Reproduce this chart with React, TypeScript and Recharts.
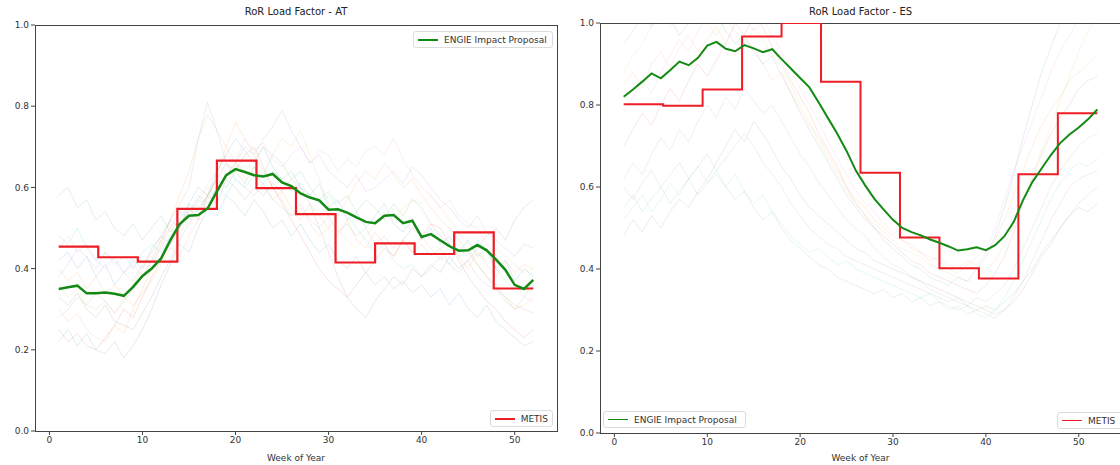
import { LineChart, Line, XAxis, YAxis } from "recharts";

const weeks = Array.from({ length: 52 }, (_, i) => i + 1);

// month boundaries (in weeks) used by the METIS step profile
const metisBreaks = [1, 5.25, 9.5, 13.75, 18, 22.25, 26.5, 30.75, 35, 39.25, 43.5, 47.75, 52];

const xTicks = [0, 10, 20, 30, 40, 50];
const yTicks = [0, 0.2, 0.4, 0.6, 0.8, 1.0];

// ---- AT ----
const atEngie = [
  0.350, 0.354, 0.358, 0.339, 0.339, 0.341, 0.338, 0.333, 0.355, 0.382,
  0.400, 0.425, 0.470, 0.510, 0.530, 0.532, 0.548, 0.590, 0.630, 0.645,
  0.638, 0.630, 0.627, 0.633, 0.612, 0.603, 0.585, 0.575, 0.568, 0.545,
  0.546, 0.538, 0.526, 0.515, 0.512, 0.530, 0.532, 0.512, 0.518, 0.478,
  0.485, 0.470, 0.455, 0.444, 0.445, 0.458, 0.445, 0.422, 0.397, 0.360,
  0.350, 0.372,
];
const atMetis = [0.454, 0.428, 0.417, 0.547, 0.666, 0.598, 0.534, 0.415, 0.462, 0.436, 0.489, 0.351];

const atYears = [
  [0.42, 0.44, 0.40, 0.43, 0.38, 0.41, 0.36, 0.39, 0.42, 0.40,
   0.45, 0.48, 0.52, 0.50, 0.56, 0.60, 0.58, 0.64, 0.68, 0.72,
   0.69, 0.66, 0.70, 0.65, 0.62, 0.64, 0.60, 0.58, 0.61, 0.55,
   0.57, 0.52, 0.54, 0.50, 0.53, 0.56, 0.51, 0.49, 0.52, 0.47,
   0.50, 0.46, 0.48, 0.44, 0.47, 0.43, 0.45, 0.40, 0.42, 0.37,
   0.40, 0.38],
  [0.30, 0.27, 0.29, 0.25, 0.23, 0.22, 0.26, 0.24, 0.30, 0.35,
   0.40, 0.46, 0.52, 0.58, 0.64, 0.72, 0.78, 0.74, 0.70, 0.66,
   0.62, 0.65, 0.60, 0.57, 0.59, 0.55, 0.52, 0.56, 0.53, 0.50,
   0.48, 0.52, 0.47, 0.45, 0.49, 0.46, 0.43, 0.47, 0.44, 0.48,
   0.45, 0.42, 0.46, 0.43, 0.40, 0.44, 0.41, 0.38, 0.42, 0.39,
   0.41, 0.40],
  [0.58, 0.60, 0.55, 0.57, 0.52, 0.54, 0.50, 0.48, 0.51, 0.47,
   0.50, 0.53, 0.49, 0.52, 0.56, 0.54, 0.58, 0.62, 0.60, 0.64,
   0.61, 0.65, 0.63, 0.68, 0.66, 0.62, 0.64, 0.60, 0.57, 0.59,
   0.56, 0.58, 0.54, 0.57, 0.55, 0.52, 0.56, 0.53, 0.57, 0.55,
   0.51, 0.48, 0.46, 0.43, 0.45, 0.41, 0.38, 0.35, 0.32, 0.30,
   0.33, 0.36],
  [0.25, 0.22, 0.24, 0.21, 0.20, 0.23, 0.26, 0.30, 0.28, 0.33,
   0.38, 0.42, 0.46, 0.50, 0.55, 0.52, 0.58, 0.62, 0.66, 0.64,
   0.68, 0.70, 0.65, 0.60, 0.56, 0.52, 0.48, 0.44, 0.40, 0.37,
   0.35, 0.33, 0.36, 0.39, 0.42, 0.45, 0.43, 0.47, 0.50, 0.48,
   0.51, 0.50, 0.46, 0.42, 0.38, 0.35, 0.32, 0.30, 0.27, 0.25,
   0.23, 0.25],
  [0.38, 0.41, 0.45, 0.43, 0.40, 0.44, 0.42, 0.39, 0.37, 0.41,
   0.44, 0.48, 0.46, 0.50, 0.54, 0.58, 0.56, 0.60, 0.63, 0.66,
   0.70, 0.68, 0.72, 0.75, 0.79, 0.74, 0.70, 0.66, 0.68, 0.64,
   0.62, 0.60, 0.63, 0.59, 0.60, 0.62, 0.64, 0.61, 0.65, 0.63,
   0.60, 0.57, 0.55, 0.52, 0.50, 0.53, 0.49, 0.47, 0.45, 0.43,
   0.46, 0.45],
  [0.33, 0.31, 0.34, 0.30, 0.28, 0.31, 0.27, 0.26, 0.25, 0.29,
   0.33, 0.38, 0.42, 0.47, 0.51, 0.55, 0.58, 0.56, 0.62, 0.60,
   0.57, 0.60, 0.58, 0.61, 0.59, 0.62, 0.60, 0.56, 0.50, 0.44,
   0.38, 0.33, 0.30, 0.28, 0.32, 0.35, 0.38, 0.36, 0.40, 0.38,
   0.41, 0.39, 0.43, 0.40, 0.42, 0.45, 0.48, 0.50, 0.47, 0.52,
   0.55, 0.57],
  [0.45, 0.48, 0.44, 0.46, 0.42, 0.40, 0.43, 0.39, 0.41, 0.38,
   0.42, 0.45, 0.50, 0.54, 0.52, 0.57, 0.61, 0.64, 0.68, 0.66,
   0.72, 0.69, 0.71, 0.67, 0.65, 0.68, 0.70, 0.66, 0.69, 0.68,
   0.64, 0.67, 0.65, 0.69, 0.70, 0.68, 0.72, 0.67, 0.63, 0.60,
   0.58, 0.55, 0.57, 0.53, 0.51, 0.50, 0.46, 0.43, 0.40, 0.36,
   0.33, 0.32],
  [0.28, 0.30, 0.33, 0.31, 0.34, 0.32, 0.29, 0.32, 0.35, 0.38,
   0.42, 0.47, 0.52, 0.56, 0.60, 0.72, 0.81, 0.74, 0.66, 0.62,
   0.60, 0.58, 0.61, 0.57, 0.55, 0.53, 0.56, 0.52, 0.50, 0.53,
   0.49, 0.51, 0.48, 0.50, 0.46, 0.48, 0.45, 0.47, 0.44, 0.46,
   0.43, 0.45, 0.41, 0.39, 0.42, 0.38, 0.36, 0.35, 0.33, 0.31,
   0.30, 0.29],
  [0.36, 0.33, 0.35, 0.31, 0.30, 0.32, 0.29, 0.33, 0.36, 0.40,
   0.43, 0.47, 0.50, 0.48, 0.53, 0.56, 0.60, 0.58, 0.63, 0.66,
   0.64, 0.67, 0.70, 0.68, 0.72, 0.70, 0.74, 0.68, 0.62, 0.56,
   0.50, 0.47, 0.45, 0.48, 0.51, 0.54, 0.52, 0.55, 0.57, 0.56,
   0.58, 0.55, 0.52, 0.49, 0.46, 0.44, 0.42, 0.45, 0.43, 0.41,
   0.39, 0.40],
  [0.48, 0.46, 0.50, 0.45, 0.42, 0.44, 0.41, 0.43, 0.40, 0.44,
   0.46, 0.44, 0.48, 0.51, 0.54, 0.57, 0.55, 0.60, 0.58, 0.62,
   0.60, 0.63, 0.61, 0.64, 0.62, 0.59, 0.61, 0.58, 0.56, 0.58,
   0.55, 0.53, 0.50, 0.47, 0.44, 0.46, 0.42, 0.40, 0.41, 0.38,
   0.40, 0.43, 0.41, 0.45, 0.43, 0.47, 0.44, 0.40, 0.37, 0.35,
   0.36, 0.35],
  [0.22, 0.25, 0.21, 0.24, 0.20, 0.19, 0.22, 0.18, 0.21, 0.25,
   0.30, 0.36, 0.41, 0.46, 0.44, 0.50, 0.55, 0.53, 0.58, 0.56,
   0.53, 0.57, 0.54, 0.50, 0.52, 0.48, 0.51, 0.47, 0.44, 0.46,
   0.42, 0.40, 0.43, 0.39, 0.36, 0.38, 0.35, 0.37, 0.34, 0.36,
   0.33, 0.35, 0.31, 0.34, 0.30, 0.28, 0.31, 0.27, 0.25, 0.23,
   0.21, 0.22],
  [0.40, 0.37, 0.39, 0.35, 0.38, 0.34, 0.36, 0.33, 0.31, 0.34,
   0.37, 0.41, 0.45, 0.43, 0.48, 0.52, 0.57, 0.63, 0.70, 0.76,
   0.72, 0.68, 0.64, 0.60, 0.57, 0.53, 0.55, 0.51, 0.48, 0.50,
   0.53, 0.57, 0.61, 0.64, 0.62, 0.66, 0.63, 0.60, 0.62, 0.58,
   0.55, 0.52, 0.50, 0.47, 0.44, 0.41, 0.38, 0.36, 0.33, 0.30,
   0.31, 0.33],
];

// ---- ES ----
const esEngie = [
  0.820, 0.838, 0.857, 0.877, 0.865, 0.885, 0.906, 0.897, 0.915, 0.945,
  0.954, 0.937, 0.931, 0.946, 0.938, 0.929, 0.936, 0.912, 0.889, 0.866,
  0.843, 0.806, 0.768, 0.730, 0.688, 0.640, 0.604, 0.571, 0.545, 0.520,
  0.500, 0.490, 0.482, 0.472, 0.464, 0.455, 0.445, 0.448, 0.453, 0.446,
  0.458, 0.480, 0.515, 0.568, 0.612, 0.645, 0.678, 0.707, 0.728, 0.745,
  0.765, 0.789,
];
const esMetis = [0.802, 0.798, 0.838, 0.967, 1.0, 0.857, 0.635, 0.477, 0.402, 0.377, 0.631, 0.780];

const esYears = [
  [0.95, 0.98, 1.02, 0.99, 1.04, 1.01, 0.97, 1.00, 1.03, 1.05,
   1.02, 0.98, 0.95, 0.97, 0.93, 0.90, 0.92, 0.87, 0.83, 0.78,
   0.74, 0.70, 0.66, 0.62, 0.58, 0.55, 0.52, 0.50, 0.47, 0.45,
   0.43, 0.41, 0.40, 0.38, 0.37, 0.36, 0.38, 0.37, 0.40, 0.43,
   0.48, 0.55, 0.63, 0.72, 0.80, 0.88, 0.94, 1.00, 1.04, 1.02,
   1.05, 1.03],
  [0.85, 0.88, 0.84, 0.90, 0.93, 0.89, 0.94, 0.97, 0.93, 0.96,
   0.99, 0.95, 0.92, 0.96, 0.94, 0.90, 0.86, 0.88, 0.83, 0.79,
   0.75, 0.72, 0.68, 0.64, 0.60, 0.57, 0.55, 0.52, 0.50, 0.48,
   0.47, 0.45, 0.44, 0.42, 0.43, 0.41, 0.40, 0.42, 0.41, 0.44,
   0.47, 0.52, 0.58, 0.64, 0.70, 0.75, 0.79, 0.82, 0.86, 0.88,
   0.90, 0.92],
  [0.55, 0.58, 0.54, 0.57, 0.60, 0.56, 0.59, 0.62, 0.58, 0.61,
   0.63, 0.60, 0.57, 0.59, 0.55, 0.52, 0.54, 0.50, 0.47, 0.45,
   0.43, 0.41, 0.40, 0.38, 0.37, 0.36, 0.35, 0.34, 0.35, 0.33,
   0.34, 0.32, 0.33, 0.31, 0.32, 0.30, 0.31, 0.29, 0.30, 0.31,
   0.30, 0.32, 0.34, 0.37, 0.40, 0.44, 0.47, 0.50, 0.53, 0.56,
   0.58, 0.60],
  [0.70, 0.74, 0.78, 0.75, 0.80, 0.84, 0.81, 0.86, 0.90, 0.87,
   0.91, 0.95, 1.00, 0.97, 1.02, 0.99, 0.94, 0.90, 0.86, 0.82,
   0.78, 0.73, 0.69, 0.65, 0.60, 0.56, 0.53, 0.50, 0.48, 0.46,
   0.44, 0.42, 0.41, 0.39, 0.38, 0.37, 0.36, 0.35, 0.34, 0.36,
   0.39, 0.43, 0.49, 0.56, 0.62, 0.68, 0.73, 0.77, 0.80, 0.84,
   0.86, 0.87],
  [0.62, 0.66, 0.63, 0.68, 0.72, 0.69, 0.74, 0.71, 0.76, 0.80,
   0.77, 0.82, 0.79, 0.84, 0.81, 0.78, 0.80, 0.76, 0.72, 0.68,
   0.65, 0.61, 0.58, 0.55, 0.52, 0.50, 0.48, 0.45, 0.43, 0.41,
   0.40, 0.38, 0.37, 0.35, 0.34, 0.33, 0.32, 0.31, 0.33, 0.32,
   0.34, 0.36, 0.40, 0.45, 0.50, 0.55, 0.60, 0.64, 0.67, 0.70,
   0.72, 0.73],
  [0.48, 0.52, 0.49, 0.53, 0.50, 0.54, 0.57, 0.55, 0.59, 0.62,
   0.66, 0.70, 0.74, 0.71, 0.76, 0.73, 0.69, 0.65, 0.62, 0.58,
   0.55, 0.53, 0.51, 0.49, 0.47, 0.45, 0.44, 0.42, 0.41, 0.40,
   0.39, 0.38, 0.37, 0.36, 0.35, 0.34, 0.33, 0.32, 0.31, 0.30,
   0.29, 0.30, 0.32, 0.35, 0.39, 0.43, 0.46, 0.50, 0.53, 0.55,
   0.54, 0.56],
  [0.78, 0.82, 0.86, 0.83, 0.88, 0.92, 0.96, 0.93, 0.98, 1.02,
   1.05, 1.03, 1.06, 1.02, 0.98, 1.01, 0.97, 0.93, 0.89, 0.84,
   0.80, 0.76, 0.71, 0.67, 0.63, 0.59, 0.56, 0.54, 0.51, 0.49,
   0.47, 0.46, 0.44, 0.43, 0.42, 0.40, 0.39, 0.41, 0.43, 0.45,
   0.50, 0.57, 0.64, 0.70, 0.76, 0.82, 0.88, 0.93, 0.97, 1.01,
   1.04, 1.06],
  [0.60, 0.57, 0.61, 0.64, 0.60, 0.63, 0.66, 0.62, 0.65, 0.68,
   0.64, 0.67, 0.70, 0.73, 0.70, 0.66, 0.63, 0.60, 0.56, 0.53,
   0.50, 0.48, 0.46, 0.45, 0.43, 0.42, 0.41, 0.40, 0.39, 0.38,
   0.37, 0.36, 0.35, 0.34, 0.33, 0.32, 0.33, 0.31, 0.30, 0.29,
   0.28, 0.30, 0.33, 0.37, 0.42, 0.47, 0.52, 0.56, 0.60, 0.62,
   0.63, 0.64],
  [0.88, 0.92, 0.95, 0.99, 1.03, 0.99, 1.02, 1.06, 1.03, 1.00,
   0.97, 1.01, 0.98, 0.95, 0.99, 0.96, 0.92, 0.89, 0.85, 0.80,
   0.76, 0.71, 0.67, 0.63, 0.59, 0.56, 0.53, 0.51, 0.49, 0.47,
   0.45, 0.44, 0.43, 0.41, 0.40, 0.39, 0.38, 0.37, 0.38, 0.40,
   0.42, 0.46, 0.51, 0.57, 0.63, 0.69, 0.75, 0.81, 0.87, 0.93,
   0.98, 1.02],
  [0.52, 0.55, 0.58, 0.54, 0.57, 0.61, 0.58, 0.62, 0.65, 0.61,
   0.64, 0.60, 0.63, 0.59, 0.56, 0.58, 0.54, 0.51, 0.48, 0.46,
   0.44, 0.45, 0.43, 0.41, 0.42, 0.40, 0.39, 0.38, 0.37, 0.36,
   0.35, 0.34, 0.33, 0.34, 0.32, 0.31, 0.30, 0.31, 0.29, 0.28,
   0.30, 0.33, 0.37, 0.42, 0.47, 0.52, 0.57, 0.61, 0.64, 0.66,
   0.65, 0.67],
];

const palette = ["#1f77b4", "#ff7f0e", "#2ca02c", "#d62728", "#9467bd", "#8c564b", "#e377c2", "#7f7f7f", "#bcbd22", "#17becf"];
const GREEN = "#138a13";
const RED = "#ee1c24";
const AXIS = "#444";
const FONT = "DejaVu Sans";

const toSeries = (vals: number[]) => weeks.map((w, i) => ({ week: w, v: vals[i] }));
const toSteps = (vals: number[]) =>
  metisBreaks.map((b, i) => ({ week: b, v: vals[Math.min(i, vals.length - 1)] }));

const xDomain = [-1.55, 54.55];
const tickStyle = { fontSize: 9, fill: "#333", fontFamily: FONT };

function Panel(props: any) {
  const { engie, metis, years, width, margin, xAxisHeight, engieWidth, metisWidth, yearOpacity } = props;
  return (
    <LineChart width={width} height={465} margin={margin}>
      <XAxis
        dataKey="week"
        type="number"
        domain={xDomain}
        ticks={xTicks}
        allowDataOverflow
        height={xAxisHeight}
        tickSize={4}
        axisLine={false}
        stroke={AXIS}
        tick={tickStyle}
        label={{ value: "Week of Year", position: "insideBottom", offset: 4, fill: "#333", fontSize: 9, fontFamily: FONT }}
      />
      <YAxis
        type="number"
        domain={[0, 1]}
        ticks={yTicks}
        allowDataOverflow
        width={30}
        tickSize={4}
        axisLine={false}
        stroke={AXIS}
        tick={tickStyle}
        tickFormatter={(v: number) => v.toFixed(1)}
      />
      {years.map((y: number[], i: number) => (
        <Line
          key={`yr-${i}`}
          data={toSeries(y)}
          dataKey="v"
          type="linear"
          stroke={palette[i % palette.length]}
          strokeOpacity={yearOpacity}
          strokeWidth={1}
          dot={false}
          activeDot={false}
          isAnimationActive={false}
        />
      ))}
      <Line data={toSteps(metis)} dataKey="v" type="stepAfter" stroke={RED} strokeWidth={metisWidth} dot={false} activeDot={false} isAnimationActive={false} />
      <Line data={toSeries(engie)} dataKey="v" type="linear" stroke={GREEN} strokeWidth={engieWidth} dot={false} activeDot={false} isAnimationActive={false} />
    </LineChart>
  );
}

// axes frame (matplotlib style spines on all four sides), drawn under the series
function Frame({ left, top, width, height }: any) {
  return (
    <div
      style={{
        position: "absolute",
        left,
        top,
        width,
        height,
        boxSizing: "border-box",
        border: `1px solid ${AXIS}`,
        pointerEvents: "none",
      }}
    />
  );
}

function LegendBox({ left, top, width, color, lineWidth, label }: any) {
  return (
    <div
      style={{
        position: "absolute",
        left,
        top,
        width,
        height: 17,
        boxSizing: "border-box",
        border: "1px solid #dcdcdc",
        borderRadius: 3,
        background: "rgba(255,255,255,0.85)",
        display: "flex",
        alignItems: "center",
        padding: "0 4px",
        fontSize: 9,
        color: "#333",
        whiteSpace: "nowrap",
      }}
    >
      <div style={{ width: 20, height: 0, borderTop: `${lineWidth}px solid ${color}`, marginRight: 6 }} />
      <span>{label}</span>
    </div>
  );
}

const titleStyle: any = { position: "absolute", top: 6, fontSize: 10, color: "#222", textAlign: "center" };

export default function App() {
  return (
    <div style={{ position: "absolute", left: 0, top: 0, width: 1120, height: 465, overflow: "hidden", background: "#fff", fontFamily: FONT }}>
      <Frame left={35} top={25} width={523} height={407} />
      <Frame left={600} top={23} width={522} height={411} />
      <div style={{ position: "absolute", left: 0, top: 0 }}>
        <Panel
          engie={atEngie}
          metis={atMetis}
          years={atYears}
          width={560}
          margin={{ top: 25, right: 3, bottom: 0, left: 5 }}
          xAxisHeight={34}
          engieWidth={2.5}
          metisWidth={2.2}
          yearOpacity={0.14}
        />
      </div>
      <div style={{ position: "absolute", left: 560, top: 0 }}>
        <Panel
          engie={esEngie}
          metis={esMetis}
          years={esYears}
          width={600}
          margin={{ top: 23, right: 39, bottom: 0, left: 10 }}
          xAxisHeight={32}
          engieWidth={2}
          metisWidth={2}
          yearOpacity={0.12}
        />
      </div>
      <div style={{ ...titleStyle, left: 35, width: 522 }}>RoR Load Factor - AT</div>
      <div style={{ ...titleStyle, left: 600, width: 521 }}>RoR Load Factor - ES</div>
      <LegendBox left={413} top={31} width={140} color={GREEN} lineWidth={2.5} label="ENGIE Impact Proposal" />
      <LegendBox left={490} top={410} width={63} color={RED} lineWidth={2} label="METIS" />
      <LegendBox left={603} top={411} width={143} color={GREEN} lineWidth={1.5} label="ENGIE Impact Proposal" />
      <LegendBox left={1057} top={412} width={70} color={RED} lineWidth={1.5} label="METIS" />
    </div>
  );
}
